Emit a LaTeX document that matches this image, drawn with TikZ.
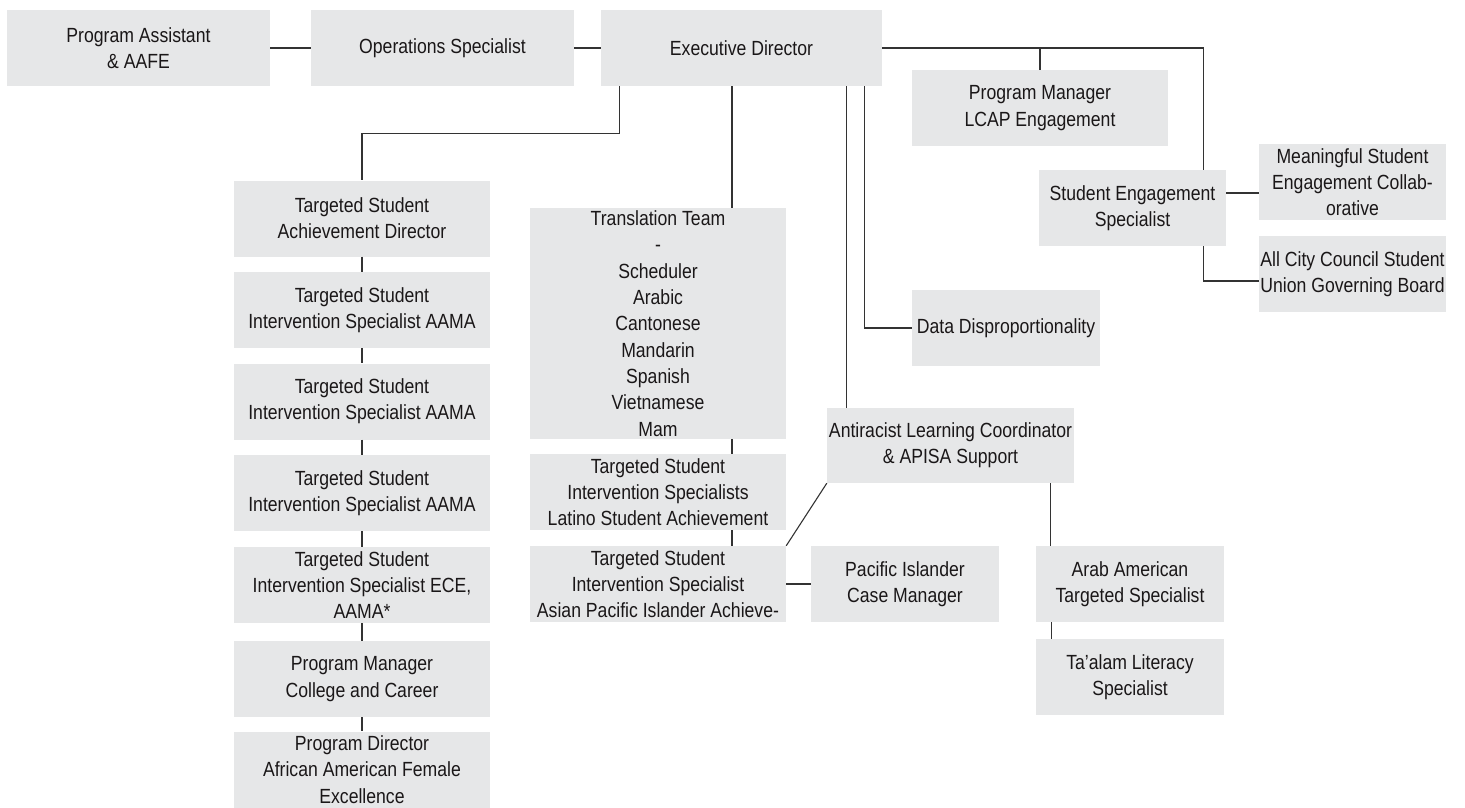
\documentclass[tikz,border=0pt]{standalone}
\usepackage{fontspec}
\setmainfont{Liberation Sans}[FakeStretch=0.86]
\usepackage{tikz}
\definecolor{boxgray}{HTML}{E6E7E8}
\definecolor{linegray}{HTML}{333333}
\definecolor{ink}{HTML}{1A1718}
\tikzset{
  conn/.style={draw=linegray, line width=1.1pt},
  obox/.style={fill=boxgray, text=ink, align=center, inner sep=0pt,
               font=\fontsize{20.5pt}{26.3pt}\selectfont,
               minimum width=256pt, minimum height=76pt},
  nbox/.style={obox, minimum width=188pt},
}

\begin{document}
\begin{tikzpicture}[x=1pt, y=-1pt]
\useasboundingbox (0,0) rectangle (1465,807);

% top row
\node[obox, minimum width=263pt] (assist) at (138.5,48) {Program Assistant\\\& AAFE};
\node[obox, minimum width=263pt] (ops)    at (442.5,48) {Operations Specialist};
\node[obox, minimum width=281pt] (exec)   at (741.5,48) {Executive Director};

% left column
\node[obox] (tsad)   at (362,218.5) {Targeted Student\\Achievement Director};
\node[obox] (aama1)  at (362,310)   {Targeted Student\\Intervention Specialist AAMA};
\node[obox] (aama2)  at (362,401.5) {Targeted Student\\Intervention Specialist AAMA};
\node[obox] (aama3)  at (362,493)   {Targeted Student\\Intervention Specialist AAMA};
\node[obox] (ece)    at (362,585)   {Targeted Student\\Intervention Specialist ECE,\\AAMA*};
\node[obox] (career) at (362,679)   {Program Manager\\College and Career};
\node[obox] (aafe)   at (362,769.5) {Program Director\\African American Female\\Excellence};

% middle
\node[obox, minimum height=231pt] (trans) at (658,323.5)
  {Translation Team\\-\\Scheduler\\Arabic\\Cantonese\\Mandarin\\Spanish\\Vietnamese\\Mam};
\node[obox] (latino) at (658,492) {Targeted Student\\Intervention Specialists\\Latino Student Achievement};
\node[obox] (asian)  at (658,584) {Targeted Student\\Intervention Specialist\\Asian Pacific Islander Achieve-};
\node[nbox] (pacific) at (905,584) {Pacific Islander\\Case Manager};
\node[obox, minimum width=247pt, minimum height=75pt] (anti) at (950.5,445.5)
  {Antiracist Learning Coordinator\\\& APISA Support};
\node[nbox] (arab)   at (1130,584) {Arab American\\Targeted Specialist};
\node[nbox] (taalam) at (1130,677) {Ta’alam Literacy\\Specialist};
\node[nbox] (data)   at (1006,328) {Data Disproportionality};

% right side
\node[obox] (lcap)  at (1040,108)   {Program Manager\\LCAP Engagement};
\node[nbox, minimum width=187pt] (ses)   at (1132.5,208) {Student Engagement\\Specialist};
\node[nbox, minimum width=187pt] (msec)  at (1352.5,182) {Meaningful Student\\Engagement Collab-\\orative};
\node[nbox, minimum width=187pt] (union) at (1352.5,274) {All City Council Student\\Union Governing Board};

% connectors
\draw[conn] (assist) -- (ops);
\draw[conn] (ops) -- (exec);
\draw[conn] ([xshift=19pt]exec.south west) -- ++(0,47) -| (tsad.north);
\foreach \a/\b in {tsad/aama1, aama1/aama2, aama2/aama3, aama3/ece, ece/career, career/aafe}
  \draw[conn] (\a) -- (\b);
\draw[conn] ([xshift=74pt]trans.north) -- ([xshift=74pt]trans.north |- exec.south);
\draw[conn] ([xshift=74pt]trans.south) -- ([xshift=74pt]latino.north);
\draw[conn] ([xshift=74pt]latino.south) -- ([xshift=74pt]asian.north);
\draw[conn] (asian) -- (pacific);
\draw[conn] (asian.north east) -- (anti.south west);
\draw[conn] ([xshift=20pt]anti.north west) -- ([xshift=20pt]anti.north west |- exec.south);
\draw[conn] ([xshift=-18pt]exec.south east) |- (data.west);
\draw[conn] ([xshift=15pt]arab.north west) -- ([xshift=15pt]arab.north west |- anti.south);
\draw[conn] ([xshift=16pt]arab.south west) -- ([xshift=16pt]taalam.north west);
\draw[conn] (exec.east) -| ([xshift=-23pt]ses.north east);
\draw[conn] (lcap.north) -- (lcap.north |- exec.east);
\draw[conn] ([yshift=15pt]ses.east) -- ([yshift=15pt]ses.east -| msec.west);
\draw[conn] ([xshift=-23pt]ses.south east) |- ([yshift=-7pt]union.west);
\end{tikzpicture}
\end{document}
